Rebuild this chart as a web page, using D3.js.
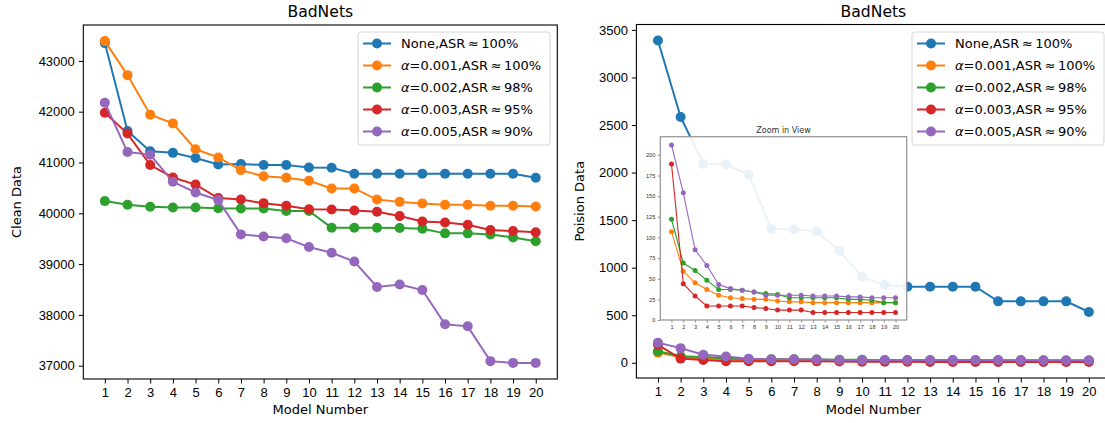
<!DOCTYPE html>
<html>
<head>
<meta charset="utf-8">
<script src="https://cdn.jsdelivr.net/npm/d3@7"></script>
<style>
body { margin: 0; background: #fff; }
svg { font-family: 'DejaVu Sans', sans-serif; display: block; }
</style>
</head>
<body>
<svg width="1105" height="423"></svg>
<script>
const models = [1, 2, 3, 4, 5, 6, 7, 8, 9, 10, 11, 12, 13, 14, 15, 16, 17, 18, 19, 20]
const alphas = [null, '0.001', '0.002', '0.003', '0.005']
const asr = ['100%', '100%', '98%', '95%', '90%']
const colors = ['#1f77b4', '#ff7f0e', '#2ca02c', '#d62728', '#9467bd']

// clean data (left)
const cleanNone = [43350, 41620, 41220, 41190, 41090, 40960, 40970, 40950, 40950, 40900, 40895, 40780, 40780, 40780, 40780, 40780, 40780, 40780, 40780, 40700]
const cleanA001 = [43390, 42720, 41940, 41770, 41260, 41100, 40850, 40730, 40700, 40640, 40490, 40490, 40270, 40225, 40195, 40170, 40170, 40150, 40150, 40135]
const cleanA002 = [40240, 40170, 40130, 40115, 40115, 40100, 40095, 40095, 40045, 40045, 39715, 39715, 39715, 39710, 39695, 39605, 39605, 39585, 39525, 39450]
const cleanA003 = [41980, 41570, 40950, 40705, 40565, 40300, 40270, 40200, 40150, 40080, 40075, 40055, 40030, 39945, 39840, 39820, 39775, 39670, 39650, 39625]
const cleanA005 = [42175, 41205, 41155, 40620, 40410, 40260, 39585, 39545, 39510, 39335, 39225, 39050, 38550, 38600, 38490, 37815, 37775, 37090, 37055, 37055]

// poison data (right)
const poisonNone = [3388, 2585, 2092, 2085, 1981, 1408, 1401, 1383, 1177, 905, 817, 800, 800, 800, 800, 646, 646, 646, 646, 534]
const poisonA001 = [107, 59, 45, 37, 30, 27, 26, 25, 25, 23, 22, 22, 21, 21, 21, 21, 21, 21, 21, 21]
const poisonA002 = [122, 69, 60, 48, 37, 37, 36, 34, 32, 31, 27, 27, 27, 27, 27, 25, 25, 24, 21, 21]
const poisonA003 = [189, 44, 29, 17, 17, 17, 17, 15, 14, 12, 12, 12, 9, 9, 9, 9, 9, 9, 9, 9]
const poisonA005 = [212, 154, 85, 66, 43, 38, 36, 34, 30, 30, 30, 30, 29, 29, 29, 28, 28, 27, 27, 27]

const cleanTicks = [37000, 38000, 39000, 40000, 41000, 42000, 43000]
const poisonTicks = [0, 500, 1000, 1500, 2000, 2500, 3000, 3500]
const zoomTicks = [0, 25, 50, 75, 100, 125, 150, 175, 200]
const zoomMax = 222

const svg = d3.select('svg')

function padded(values) {
    const [lo, hi] = d3.extent(values)
    const m = (hi - lo) * 0.05
    return [lo - m, hi + m]
}

function styleAxis(g, size) {
    g.select('.domain').remove()
    g.selectAll('text').attr('font-size', size).attr('fill', '#000')
    g.selectAll('line').attr('stroke', '#000')
}

function drawPanel(box, series, yTicks, title, ylabel, ylabelX) {
    const g = svg.append('g')
    const x = d3.scaleLinear().domain(padded(models)).range([box.x, box.x + box.w])
    const y = d3.scaleLinear().domain(padded(series.flat())).range([box.y + box.h, box.y])

    const ax = g.append('g')
        .attr('transform', `translate(0,${box.y + box.h})`)
        .call(d3.axisBottom(x).tickValues(models).tickSize(4.5).tickPadding(4).tickFormat(d3.format('d')))
    styleAxis(ax, 13)
    const ay = g.append('g')
        .attr('transform', `translate(${box.x},0)`)
        .call(d3.axisLeft(y).tickValues(yTicks).tickSize(4.5).tickPadding(4).tickFormat(d3.format('d')))
    styleAxis(ay, 13)

    const line = d3.line().x((d, i) => x(models[i])).y(d => y(d))
    series.forEach(function (s, k) {
        g.append('path')
            .attr('d', line(s))
            .attr('fill', 'none')
            .attr('stroke', colors[k])
            .attr('stroke-width', 2)
        g.append('g').selectAll('circle')
            .data(s)
            .enter()
            .append('circle')
            .attr('cx', (d, i) => x(models[i]))
            .attr('cy', d => y(d))
            .attr('r', 5)
            .attr('fill', colors[k])
    })

    g.append('rect')
        .attr('x', box.x).attr('y', box.y)
        .attr('width', box.w).attr('height', box.h)
        .attr('fill', 'none').attr('stroke', '#000').attr('stroke-width', 1.1)

    g.append('text')
        .attr('x', box.x + box.w / 2).attr('y', 16.5)
        .attr('text-anchor', 'middle').attr('font-size', 15.6)
        .text(title)
    g.append('text')
        .attr('x', box.x + box.w / 2).attr('y', 414)
        .attr('text-anchor', 'middle').attr('font-size', 13)
        .text('Model Number')
    g.append('text')
        .attr('transform', `translate(${ylabelX},${box.y + box.h / 2}) rotate(-90)`)
        .attr('text-anchor', 'middle').attr('font-size', 13)
        .text(ylabel)
    return { g, x, y }
}

function drawLegend(lx, ly, w) {
    const lg = svg.append('g').attr('transform', `translate(${lx},${ly})`)
    lg.append('rect')
        .attr('width', w).attr('height', 113).attr('rx', 3)
        .attr('fill', '#fff').attr('fill-opacity', 0.8)
        .attr('stroke', '#d6d6d6').attr('stroke-width', 1)
    alphas.forEach(function (a, k) {
        const cy = 11.5 + k * 22
        lg.append('line')
            .attr('x1', 5).attr('x2', 33).attr('y1', cy).attr('y2', cy)
            .attr('stroke', colors[k]).attr('stroke-width', 2)
        lg.append('circle').attr('cx', 19).attr('cy', cy).attr('r', 5).attr('fill', colors[k])
        const t = lg.append('text').attr('x', 43).attr('y', cy + 4.8).attr('font-size', 13)
        if (a === null) {
            t.append('tspan').text('None,ASR')
        } else {
            t.append('tspan').attr('font-style', 'italic').text('α')
            t.append('tspan').text('=' + a + ',ASR')
        }
        t.append('tspan').attr('dx', 2.5).text('≈')
        t.append('tspan').attr('dx', 2.5).text(asr[k])
    })
}

// left panel
drawPanel({ x: 83.3, y: 25, w: 474, h: 354 },
    [cleanNone, cleanA001, cleanA002, cleanA003, cleanA005],
    cleanTicks, 'BadNets', 'Clean Data', 21)
drawLegend(358, 32, 192)

// right panel
drawPanel({ x: 636.4, y: 24.5, w: 474, h: 353.5 },
    [poisonNone, poisonA001, poisonA002, poisonA003, poisonA005],
    poisonTicks, 'BadNets', 'Poision Data', 584)

// inset
const inset = { x: 660.3, y: 136.7, w: 246.4, h: 183.3 }
const ig = svg.append('g')
ig.append('rect')
    .attr('x', inset.x).attr('y', inset.y).attr('width', inset.w).attr('height', inset.h)
    .attr('fill', '#fff').attr('fill-opacity', 0.9)
const ix = d3.scaleLinear().domain(padded(models)).range([inset.x, inset.x + inset.w])
const iy = d3.scaleLinear().domain([0, zoomMax]).range([inset.y + inset.h, inset.y])
const iax = ig.append('g')
    .attr('transform', `translate(0,${inset.y + inset.h})`)
    .call(d3.axisBottom(ix).tickValues(models).tickSize(2.5).tickPadding(2.5).tickFormat(d3.format('d')))
const iay = ig.append('g')
    .attr('transform', `translate(${inset.x},0)`)
    .call(d3.axisLeft(iy).tickValues(zoomTicks).tickSize(2.5).tickPadding(2.5).tickFormat(d3.format('d')))
;[iax, iay].forEach(function (a) {
    a.select('.domain').remove()
    a.selectAll('text').attr('font-size', 5.6).attr('fill', '#333')
    a.selectAll('line').attr('stroke', '#888')
})
const iline = d3.line().x((d, i) => ix(models[i])).y(d => iy(d))
;[poisonA001, poisonA002, poisonA003, poisonA005].forEach(function (s, k) {
    ig.append('path')
        .attr('d', iline(s))
        .attr('fill', 'none').attr('stroke', colors[k + 1]).attr('stroke-width', 1.1)
    ig.append('g').selectAll('circle')
        .data(s)
        .enter()
        .append('circle')
        .attr('cx', (d, i) => ix(models[i]))
        .attr('cy', d => iy(d))
        .attr('r', 2.5)
        .attr('fill', colors[k + 1])
})
ig.append('rect')
    .attr('x', inset.x).attr('y', inset.y).attr('width', inset.w).attr('height', inset.h)
    .attr('fill', 'none').attr('stroke', '#999').attr('stroke-width', 1.3)
ig.append('text')
    .attr('x', inset.x + inset.w / 2).attr('y', inset.y - 4)
    .attr('text-anchor', 'middle').attr('font-size', 8).attr('fill', '#333')
    .text('Zoom in View')

drawLegend(912, 32, 192)
</script>
</body>
</html>
